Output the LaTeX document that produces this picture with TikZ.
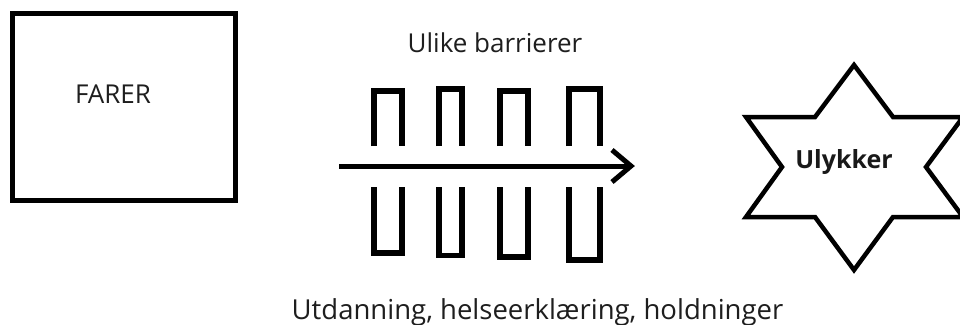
\documentclass[tikz,border=0pt]{standalone}
\usepackage{fontspec}
\setmainfont{Open Sans}
\definecolor{txt}{RGB}{30,30,30}
\begin{document}
\begin{tikzpicture}[x=1pt,y=-1pt,
  thick line/.style={line width=5pt, line join=miter, line cap=butt},
  label text/.style={font=\fontsize{26}{31}\selectfont, text=txt, anchor=base, inner sep=0pt},
  barrier/.style={line width=5.5pt, line join=miter}]
\useasboundingbox[fill=white] (0,0) rectangle (960,324);
% FARER box
\draw[thick line] (12,13) rectangle (235,200);
\node[label text] (farer) at (113,103) {FARER};
% title
\node[label text] (title) at (495,52) {Ulike barrierer};
% arrow
\coordinate (as) at (339,166);
\coordinate (ae) at (631,166);
\coordinate (aup) at (612,150);
\coordinate (adn) at (612,182);
\draw[thick line] (as) -- (ae);
\draw[thick line] (aup) -- (ae) -- (adn);
% barriers top
\draw[barrier] (374,146) -- (374,91) -- (402,91) -- (402,146);
\draw[barrier] (439,146) -- (439,89) -- (462,89) -- (462,146);
\draw[barrier] (500,146) -- (500,91) -- (528,91) -- (528,146);
\draw[barrier] (569,146) -- (569,89) -- (600,89) -- (600,146);
% barriers bottom
\draw[barrier] (374,187) -- (374,253) -- (402,253) -- (402,187);
\draw[barrier] (439,187) -- (439,255.5) -- (462,255.5) -- (462,187);
\draw[barrier] (500,187) -- (500,257) -- (528,257) -- (528,187);
\draw[barrier] (569,187) -- (569,260) -- (600,260) -- (600,187);
% star
\draw[line width=4.5pt, line join=miter]
  (854,65) -- (893,117) -- (963,117) -- (926,167) -- (963,217) -- (893,217)
  -- (854,270) -- (815,217) -- (746,217) -- (782,167) -- (746,117) -- (815,117) -- cycle;
\node[label text, font=\bfseries\fontsize{25}{30}\selectfont, text=black!90] (ulykker) at (844,168) {Ulykker};
% bottom text
\node[label text, font=\fontsize{27.5}{32}\selectfont] (bottom) at (537.5,319) {Utdanning, helseerklæring, holdninger};
\end{tikzpicture}
\end{document}
